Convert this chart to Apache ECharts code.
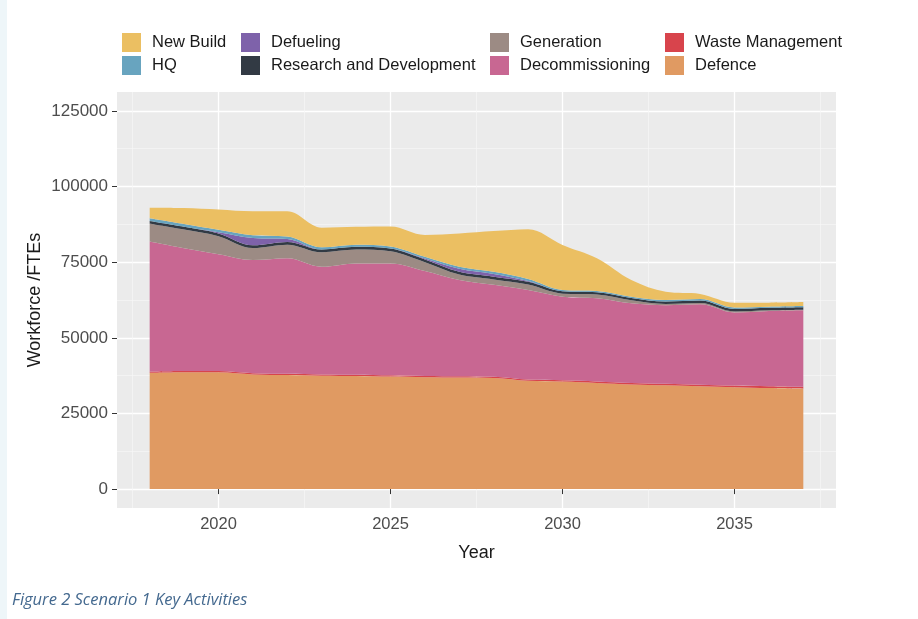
<!DOCTYPE html>
<html>
<head>
<meta charset="utf-8">
<script src="https://cdn.jsdelivr.net/npm/echarts@6/dist/echarts.min.js"></script>
<style>
  html, body { margin: 0; padding: 0; background: #ffffff; }
  .strip { position: absolute; left: 0; top: 0; width: 7px; height: 619px; background: #eef6f9; }
  #chart { position: absolute; left: 0; top: 0; width: 918px; height: 619px; }
</style>
</head>
<body>
<div class="strip"></div>
<div id="chart"></div>
<script>
const years = [2018, 2019, 2020, 2021, 2022, 2023, 2024, 2025, 2026, 2027,
  2028, 2029, 2030, 2031, 2032, 2033, 2034, 2035, 2036, 2037];

// FTEs per activity
const defence = [38400, 38600, 38600, 37900, 37700, 37500, 37400, 37200, 37000, 36900,
  36700, 35800, 35600, 35100, 34600, 34300, 34000, 33700, 33400, 33200];
const wasteManagement = [400, 400, 400, 400, 400, 400, 400, 400, 400, 400,
  400, 400, 400, 500, 500, 500, 500, 500, 600, 600];
const decommissioning = [43000, 40600, 38600, 37400, 38200, 35600, 36800, 37000, 34700, 31800,
  30400, 29600, 27600, 27500, 26300, 26000, 26600, 24200, 24900, 25300];
const generation = [5900, 6200, 6000, 4000, 4500, 4800, 4600, 4000, 2900, 1800,
  1800, 1800, 1000, 1200, 1000, 400, 400, 300, 200, 200];
const researchDev = [900, 900, 900, 900, 900, 900, 900, 900, 900, 900,
  900, 900, 800, 800, 800, 800, 800, 800, 800, 800];
const defueling = [0, 0, 400, 2400, 1000, 0, 0, 0, 300, 1000,
  900, 300, 0, 0, 0, 0, 0, 0, 0, 0];
const hq = [900, 900, 800, 900, 800, 700, 700, 700, 600, 700,
  700, 600, 400, 400, 400, 500, 500, 500, 400, 400];
const newBuild = [3500, 5300, 6700, 7900, 8300, 6500, 5900, 6600, 7200, 11000,
  13500, 16500, 14900, 10800, 5500, 2700, 1700, 1600, 1300, 1300];

const xTicks = [2020, 2025, 2030, 2035];
const xMinor = [2017.5, 2022.5, 2027.5, 2032.5, 2037.5];
const yTicks = [0, 25000, 50000, 75000, 100000, 125000];
const yMinor = [12500, 37500, 62500, 87500, 112500];

// bottom of the stack first
const layers = [
  { name: "Defence", values: defence, color: "#e09a62" },
  { name: "Waste Management", values: wasteManagement, color: "#d8444c" },
  { name: "Decommissioning", values: decommissioning, color: "#c86792" },
  { name: "Generation", values: generation, color: "#9c8b84" },
  { name: "Research and Development", values: researchDev, color: "#323a44" },
  { name: "Defueling", values: defueling, color: "#7e62aa" },
  { name: "HQ", values: hq, color: "#68a4bf" },
  { name: "New Build", values: newBuild, color: "#ebbf62" },
];

const legendCols = [
  { left: 122, items: ["New Build", "HQ"] },
  { left: 241, items: ["Defueling", "Research and Development"] },
  { left: 490, items: ["Generation", "Decommissioning"] },
  { left: 665, items: ["Waste Management", "Defence"] },
];

// panel box; x range is padded by 0.95 year each side like ggplot
const panel = { left: 117, right: 82, top: 92, bottom: 111 };
const xMin = 2017.05, xMax = 2037.95;
const pad = 0.95 * (918 - panel.left - panel.right) / (xMax - xMin);
const yMin = -6250, yMax = 131250;

const font = "Liberation Sans, Arial, sans-serif";
const plain = (v) => String(v);

const option = {
  animation: false,
  title: {
    text: "Figure 2 Scenario 1 Key Activities",
    left: 12,
    top: 592,
    padding: 0,
    textStyle: {
      fontFamily: "Open Sans, sans-serif",
      fontStyle: "italic",
      fontWeight: "normal",
      fontSize: 16.5,
      color: "#44698f",
    },
  },
  legend: legendCols.map((c) => ({
    data: c.items,
    left: c.left,
    top: 33,
    orient: "vertical",
    icon: "rect",
    itemWidth: 19,
    itemHeight: 19,
    itemGap: 4,
    padding: 0,
    selectedMode: false,
    textStyle: { fontFamily: font, fontSize: 16.5, color: "#1a1a1a", padding: [0, 0, 0, 6] },
  })),
  grid: [
    { ...panel, show: true, backgroundColor: "#ebebeb", borderWidth: 0 },
    { left: panel.left + pad, right: panel.right + pad, top: panel.top, bottom: panel.bottom },
  ],
  xAxis: [
    {
      gridIndex: 0,
      type: "value",
      min: xMin,
      max: xMax,
      name: "Year",
      nameLocation: "middle",
      nameGap: 36,
      nameMoveOverlap: false,
      nameTextStyle: { fontFamily: font, fontSize: 18, color: "#1a1a1a" },
      axisLine: { show: false },
      axisTick: { show: true, length: 5, customValues: xTicks, lineStyle: { color: "#333333" } },
      axisLabel: { customValues: xTicks, formatter: plain, fontFamily: font, fontSize: 16.5, color: "#4d4d4d", margin: 8 },
      splitLine: { show: true, lineStyle: { color: "#ffffff", width: 1.3 } },
    },
    {
      gridIndex: 0,
      type: "value",
      position: "top",
      min: xMin,
      max: xMax,
      axisLine: { show: false },
      axisTick: { show: false, customValues: xMinor },
      axisLabel: { show: false, customValues: xMinor },
      splitLine: { show: true, lineStyle: { color: "#f6f6f6", width: 0.7 } },
    },
    {
      gridIndex: 1,
      type: "category",
      data: years,
      boundaryGap: false,
      show: false,
    },
  ],
  yAxis: [
    {
      gridIndex: 0,
      type: "value",
      min: yMin,
      max: yMax,
      name: "Workforce /FTEs",
      nameLocation: "middle",
      nameGap: 73,
      nameMoveOverlap: false,
      nameTextStyle: { fontFamily: font, fontSize: 18, color: "#1a1a1a" },
      axisLine: { show: false },
      axisTick: { show: true, length: 5, customValues: yTicks, lineStyle: { color: "#333333" } },
      axisLabel: { customValues: yTicks, formatter: plain, fontFamily: font, fontSize: 17, color: "#4d4d4d", margin: 9 },
      splitLine: { show: true, lineStyle: { color: "#ffffff", width: 1.3 } },
    },
    {
      gridIndex: 0,
      type: "value",
      position: "right",
      min: yMin,
      max: yMax,
      axisLine: { show: false },
      axisTick: { show: false, customValues: yMinor },
      axisLabel: { show: false, customValues: yMinor },
      splitLine: { show: true, lineStyle: { color: "#f6f6f6", width: 0.7 } },
    },
    {
      gridIndex: 1,
      type: "value",
      min: yMin,
      max: yMax,
      show: false,
    },
  ],
  series: layers.map((l) => ({
    name: l.name,
    type: "line",
    stack: "total",
    xAxisIndex: 2,
    yAxisIndex: 2,
    smooth: 0.35,
    showSymbol: false,
    symbol: "none",
    color: l.color,
    lineStyle: { width: 0 },
    areaStyle: { color: l.color, opacity: 1 },
    data: l.values,
  })),
};

const myChart = echarts.init(document.getElementById("chart"));
myChart.setOption(option);
</script>
</body>
</html>
